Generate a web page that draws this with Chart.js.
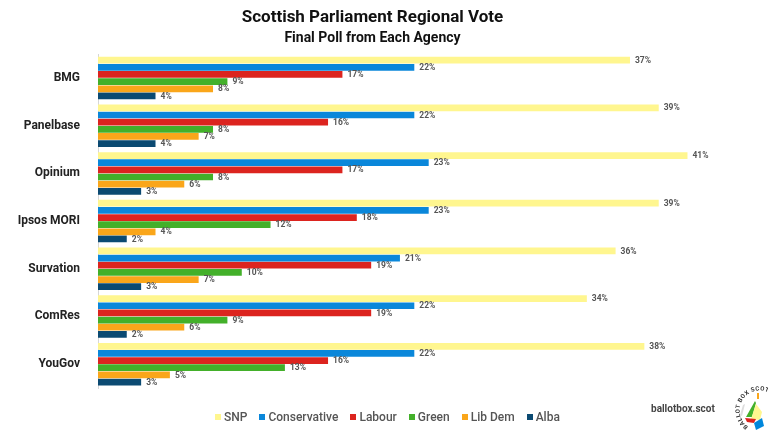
<!DOCTYPE html>
<html>
<head>
<meta charset="utf-8">
<script src="https://cdn.jsdelivr.net/npm/chart.js@4/dist/chart.umd.min.js"></script>
<style>
  html, body { margin: 0; padding: 0; background: #fff; }
  #wrap { position: relative; width: 768px; height: 432px; overflow: hidden; }
  #site {
    position: absolute; left: 651px; top: 403px;
    font: bold 10px Roboto, sans-serif; color: #444;
  }
  #legend {
    position: absolute; left: 215px; top: 409px;
    display: flex; align-items: center;
    font: 500 12px Roboto, sans-serif; color: #555;
    line-height: 16px; white-space: nowrap;
  }
  #legend .item { display: flex; align-items: center; margin-right: 12px; }
  #legend .box { width: 6px; height: 6px; margin-right: 3px; }
  #logo { position: absolute; left: 732px; top: 380px; }
</style>
</head>
<body>
<div id="wrap">
  <canvas id="chart" width="768" height="432"></canvas>
  <div id="legend"></div>
  <div id="site">ballotbox.scot</div>
  <svg id="logo" width="36" height="52" viewBox="0 0 36 52">
    <defs><path id="arc" d="M 16.2 46.7 A 19 19 0 1 1 39 14"/></defs>
    <text font-family="Roboto, sans-serif" font-size="6" font-weight="bold" fill="#333" letter-spacing="0.5">
      <textPath href="#arc">BALLOT BOX SCOTLAND</textPath>
    </text>
    <polygon points="11,25 13,24 10,36 8,35" fill="#dddddd"/>
    <polygon points="23,21 24,23 20,37 14,37" fill="#43b02a"/>
    <polygon points="24,24 30,32 28,40 19,39" fill="#fff68f"/>
    <polygon points="13,38 24,39 22,43 15,42" fill="#dc241f"/>
    <polygon points="22,43 30,38 32,46 24,50" fill="#0087dc"/>
    <rect x="25" y="13" width="2" height="6" fill="#faa61a"/>
  </svg>
</div>
<script>
// polling data, one value per agency
const agencies = ["BMG", "Panelbase", "Opinium", "Ipsos MORI", "Survation", "ComRes", "YouGov"];
const snp          = [37, 39, 41, 39, 36, 34, 38];
const conservative = [22, 22, 23, 23, 21, 22, 22];
const labour       = [17, 16, 17, 18, 19, 19, 16];
const green        = [9, 8, 8, 12, 10, 9, 13];
const libDem       = [8, 7, 6, 4, 7, 6, 5];
const alba         = [4, 4, 3, 2, 3, 2, 3];

const partyNames  = ["SNP", "Conservative", "Labour", "Green", "Lib Dem", "Alba"];
const partyValues = [snp, conservative, labour, green, libDem, alba];
const partyColors = ["#fff68f", "#0a87da", "#dc241f", "#43b02a", "#faa61a", "#0b4a72"];

// value labels at the end of each bar
const barLabels = {
  id: "barLabels",
  afterDatasetsDraw(chart) {
    const ctx = chart.ctx;
    ctx.save();
    ctx.font = "bold 8.5px Roboto, sans-serif";
    ctx.fillStyle = "#555";
    ctx.textAlign = "left";
    ctx.textBaseline = "middle";
    chart.data.datasets.forEach((ds, i) => {
      const meta = chart.getDatasetMeta(i);
      meta.data.forEach((bar, j) => {
        ctx.fillText(ds.data[j] + "%", bar.x + 5, bar.y + 0.5);
      });
    });
    ctx.restore();
  }
};

// legend as plain html (tighter box/text spacing than the built-in one)
const legendEl = document.getElementById("legend");
partyNames.forEach((name, i) => {
  const item = document.createElement("div");
  item.className = "item";
  const box = document.createElement("span");
  box.className = "box";
  box.style.background = partyColors[i];
  item.appendChild(box);
  item.appendChild(document.createTextNode(name));
  legendEl.appendChild(item);
});

const ctx = document.getElementById("chart").getContext("2d");
new Chart(ctx, {
  type: "bar",
  data: {
    labels: agencies,
    datasets: partyNames.map((name, i) => ({
      label: name,
      data: partyValues[i],
      backgroundColor: partyColors[i],
      borderWidth: 0,
      categoryPercentage: 0.9,
      barPercentage: 0.94
    }))
  },
  options: {
    indexAxis: "y",
    responsive: false,
    animation: false,
    layout: { padding: { left: 0, right: 23, top: 0, bottom: 44 } },
    scales: {
      x: { display: false, min: 0, max: 45 },
      y: {
        afterFit(scale) { scale.width = 98; },
        grid: { display: false },
        border: { display: true, color: "#d6d6d6" },
        ticks: {
          color: "#222",
          padding: 10,
          font: { family: "Roboto, sans-serif", size: 12, weight: "bold" }
        }
      }
    },
    plugins: {
      title: {
        display: true,
        text: "Scottish Parliament Regional Vote",
        color: "#111",
        font: { family: "Roboto, sans-serif", size: 17, weight: "bold" },
        padding: { top: 8, bottom: 2 }
      },
      subtitle: {
        display: true,
        text: "Final Poll from Each Agency",
        color: "#111",
        font: { family: "Roboto, sans-serif", size: 14, weight: "bold" },
        padding: { bottom: 7 }
      },
      legend: { display: false },
      tooltip: { enabled: false }
    }
  },
  plugins: [barLabels]
});
</script>
</body>
</html>
